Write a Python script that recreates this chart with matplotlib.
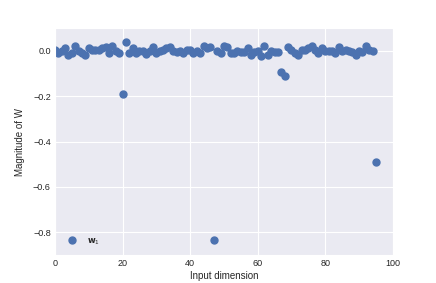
import matplotlib
matplotlib.use("Agg")
import matplotlib.pyplot as plt
import seaborn as sns
import numpy as np

sns.set_style("darkgrid")
plt.rcParams["font.family"] = ["Liberation Sans", "DejaVu Sans"]

dims = list(range(96))
weights = [0.005, -0.01, 0.0, 0.01, -0.02, -0.01, 0.02, 0.0, -0.01, -0.02,
           0.01, 0.005, 0.005, 0.005, 0.01, 0.015, -0.01, 0.02, 0.0, -0.01,
           -0.19, 0.04, -0.01, 0.01, -0.01, 0.0, 0.0, -0.015, 0.0, 0.015,
           -0.01, 0.0, 0.005, 0.01, 0.015, 0.0, -0.005, 0.0, -0.01, 0.005,
           0.005, -0.01, 0.0, -0.01, 0.02, 0.01, 0.015, -0.835, 0.0, -0.01,
           0.02, 0.015, -0.01, -0.01, 0.0, -0.005, -0.005, 0.01, -0.02, -0.005,
           0.0, -0.025, 0.02, -0.02, 0.0, -0.005, -0.005, -0.095, -0.11, 0.015,
           0.005, -0.01, -0.02, 0.005, 0.005, 0.01, 0.02, 0.005, -0.01, 0.01,
           0.0, 0.0, 0.0, -0.01, 0.015, 0.0, 0.005, 0.0, -0.005, -0.02,
           0.0, -0.005, 0.02, 0.005, 0.0, -0.49]
series_label = r"$\mathbf{w}_1$"
xlabel = "Input dimension"
ylabel = "Magnitude of W"

fig = plt.figure(figsize=(4.36, 2.83), dpi=100)
ax = fig.add_axes([0.126, 0.099, 0.775, 0.802])
ax.plot(dims, weights, "o", color="#4C72B0", markersize=5, label=series_label)
ax.set_xlim(0, 100)
ax.set_ylim(-0.9, 0.1)
ax.set_xticks([0, 20, 40, 60, 80, 100])
ax.set_yticks([0.0, -0.2, -0.4, -0.6, -0.8])
ax.tick_params(labelsize=6.5, pad=3, length=0)
ax.set_xlabel(xlabel, fontsize=7, labelpad=2)
ax.set_ylabel(ylabel, fontsize=7, labelpad=6)
ax.legend(loc="lower left", fontsize=6, frameon=False, borderaxespad=0.6)
fig.savefig("out.png", dpi=100)
